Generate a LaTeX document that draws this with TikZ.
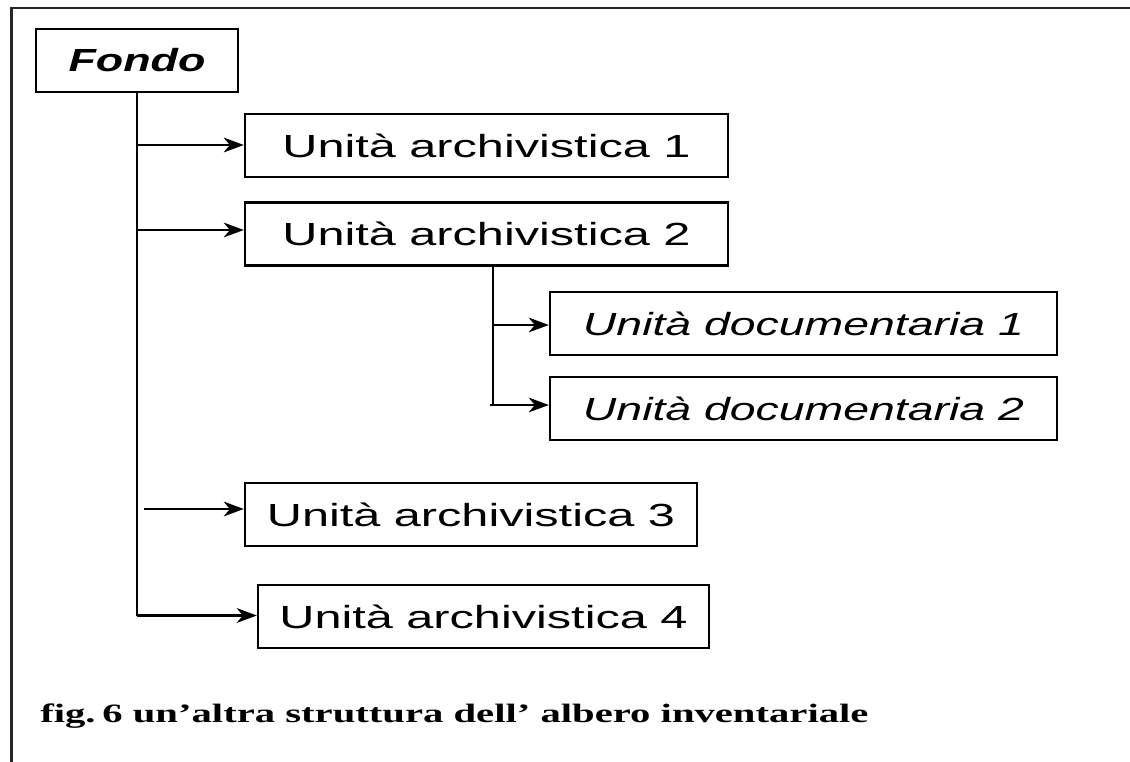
\documentclass[tikz,border=0pt]{standalone}
\usepackage{fontspec}
\usepackage{graphicx}
\setmainfont{Liberation Serif}
\setsansfont{Liberation Sans}
\usetikzlibrary{arrows.meta}
\newcommand\wide[2]{\scalebox{#1}[1]{#2}}
\tikzset{
  unitbox/.style={draw=black, line width=1.8pt, rectangle, inner sep=0pt,
    minimum height=47.25pt, font=\sffamily\fontsize{24}{24}\selectfont},
  link/.style={line width=1.9pt, -{Stealth[length=15pt,width=11pt,inset=4.5pt]}},
  trunk/.style={line width=1.9pt},
  frame/.style={line width=2.2pt, draw=black!85}
}
\begin{document}
\begin{tikzpicture}[x=0.75pt,y=-0.75pt]
\useasboundingbox (0,0) rectangle (1130,762);
\draw[frame] (11.5,770) -- (11.5,8) -- (1140,8);
% nodes
\node[unitbox, minimum width=151.5pt, font=\sffamily\bfseries\itshape\fontsize{24}{24}\selectfont] (fondo) at (137,60.5) {\wide{1.4}{Fondo}};
\node[unitbox, minimum width=362.25pt] (a1) at (486.5,145.5) {\wide{1.52}{Unità archivistica 1}};
\node[unitbox, minimum width=362.25pt] (a2) at (486.5,234) {\wide{1.52}{Unità archivistica 2}};
\node[unitbox, minimum width=380.25pt, font=\sffamily\itshape\fontsize{24}{24}\selectfont] (d1) at (803.5,323.5) {\wide{1.45}{Unità documentaria 1}};
\node[unitbox, minimum width=380.25pt, font=\sffamily\itshape\fontsize{24}{24}\selectfont] (d2) at (803.5,408.5) {\wide{1.45}{Unità documentaria 2}};
\node[unitbox, minimum width=339pt] (a3) at (471,514.5) {\wide{1.52}{Unità archivistica 3}};
\node[unitbox, minimum width=338.25pt] (a4) at (483.5,616.5) {\wide{1.52}{Unità archivistica 4}};
% caption
\node[anchor=base west, inner sep=0pt] (cap) at (40,722) {\resizebox{621pt}{14pt}{\bfseries fig.\,6 un’altra struttura dell’ albero inventariale}};
% trunk coordinates
\coordinate (t1) at (137,145);
\coordinate (t2) at (137,230);
\coordinate (t3) at (144,509);
\coordinate (t4) at (137,615.5);
\coordinate (s1) at (493,325);
\coordinate (s2) at (490,405);
% connectors
\draw[trunk] (fondo.south) -- (t4);
\draw[link] (t1) -- (t1 -| a1.west);
\draw[link] (t2) -- (t2 -| a2.west);
\draw[link] (t3) -- (t3 -| a3.west);
\draw[link] (t4) -- (t4 -| a4.west);
\draw[trunk] (a2.south -| s1) -- (s1 |- s2);
\draw[link] (s1) -- (s1 -| d1.west);
\draw[link] (s2) -- (s2 -| d2.west);
\end{tikzpicture}
\end{document}
